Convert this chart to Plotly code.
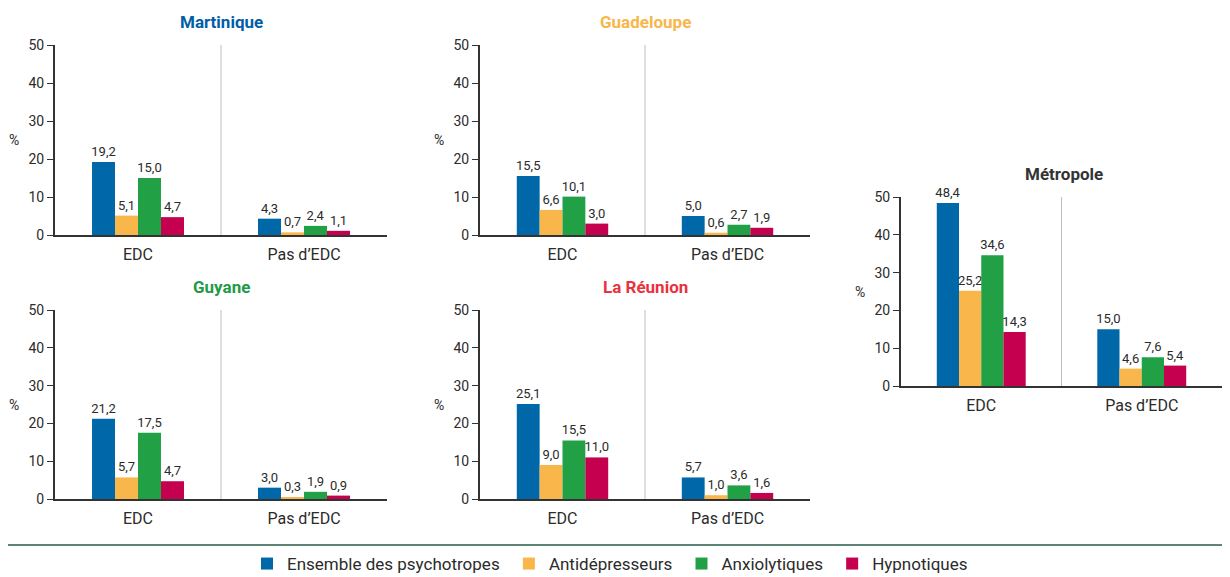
import plotly.graph_objects as go

# The page body adds an 8px margin, so the figure is sized to fit inside it
# and positions below are given in window pixels, then converted.
OFF = 8
W, H = 1230 - 2 * OFF, 577 - OFF

categories = ["EDC", "Pas d\u2019EDC"]
series_names = ["Ensemble des psychotropes", "Antid\u00e9presseurs", "Anxiolytiques", "Hypnotiques"]
series_colors = ["#0068a8", "#f9b64b", "#21a045", "#c4004f"]

regions = ["Martinique", "Guadeloupe", "Guyane", "La R\u00e9union", "M\u00e9tropole"]
title_colors = ["#005ea8", "#f9b64b", "#1f9a47", "#e8323e", "#333333"]

# values per region: [series][category]
martinique = [[19.2, 4.3], [5.1, 0.7], [15.0, 2.4], [4.7, 1.1]]
guadeloupe = [[15.5, 5.0], [6.6, 0.6], [10.1, 2.7], [3.0, 1.9]]
guyane = [[21.2, 3.0], [5.7, 0.3], [17.5, 1.9], [4.7, 0.9]]
la_reunion = [[25.1, 5.7], [9.0, 1.0], [15.5, 3.6], [11.0, 1.6]]
metropole = [[48.4, 15.0], [25.2, 4.6], [34.6, 7.6], [14.3, 5.4]]
region_values = [martinique, guadeloupe, guyane, la_reunion, metropole]

y_ticks = [0, 10, 20, 30, 40, 50]

# panel boxes in window pixels: (left, right, top, bottom)
boxes = [
    (55, 387, 45, 235),
    (480, 810, 45, 235),
    (55, 387, 310, 499),
    (480, 810, 310, 499),
    (901, 1222, 197, 386),
]


def px(x):
    return min(max((x - OFF) / W, 0), 1)


def py(y):
    return min(max(1 - (y - OFF) / H, 0), 1)


FONT = "Roboto, Liberation Sans Narrow, DejaVu Sans Condensed, sans-serif"
TXT = "#2b2b2b"

fig = go.Figure()
annotations = []
shapes = []


def fmt(v):
    return f"{v:.1f}".replace(".", ",")


PAD = "\u00a0"

for i, (reg, vals, box) in enumerate(zip(regions, region_values, boxes)):
    k = "" if i == 0 else str(i + 1)
    xa, ya = "x" + k, "y" + k
    for s, name in enumerate(series_names):
        fig.add_trace(go.Bar(
            x=categories, y=vals[s], name=name + PAD,
            marker=dict(color=series_colors[s], line=dict(width=0)),
            text=[fmt(v) for v in vals[s]], textposition="outside",
            textfont=dict(size=13, color=TXT, family=FONT),
            constraintext="none", cliponaxis=False,
            xaxis=xa, yaxis=ya,
            legendgroup=name, showlegend=(i == 0),
        ))
    l, r, t, b = box
    fig.layout["xaxis" + k] = dict(
        domain=[px(l), px(r)], anchor=ya, range=[-0.5, 1.5],
        showline=True, linecolor="#333333", linewidth=2,
        ticks="", showgrid=False, zeroline=False, automargin=False,
        tickfont=dict(size=16, color=TXT, family=FONT),
        ticklabelstandoff=4, fixedrange=True,
    )
    fig.layout["yaxis" + k] = dict(
        domain=[py(b), py(t)], anchor=xa, range=[0, 50],
        tickvals=y_ticks, showline=True, linecolor="#333333", linewidth=2,
        ticks="outside", ticklen=6, tickcolor="#333333", tickwidth=1,
        showgrid=False, zeroline=False, automargin=False,
        tickfont=dict(size=14, color=TXT, family=FONT), fixedrange=True,
    )
    # separator between categories
    shapes.append(dict(type="line", xref=xa, yref=ya + " domain",
                       x0=0.5, x1=0.5, y0=0, y1=1,
                       line=dict(color="#bdbdbd", width=1)))
    # region title
    cx = (l + r) / 2 if i < 4 else 1064
    annotations.append(dict(text="<b>" + reg + "</b>", xref="paper", yref="paper",
                            x=px(cx), y=py(t - 23),
                            showarrow=False, xanchor="center", yanchor="middle",
                            font=dict(size=17, color=title_colors[i], family=FONT)))
    # percent label
    annotations.append(dict(text="%", xref="paper", yref="paper",
                            x=px(l - 41), y=py((t + b) / 2),
                            showarrow=False, xanchor="center", yanchor="middle",
                            font=dict(size=14, color=TXT, family=FONT)))

# separator line above legend
shapes.append(dict(type="line", xref="paper", yref="paper", x0=0, x1=1,
                   y0=py(545), y1=py(545),
                   line=dict(color="#5e8377", width=2)))

fig.update_layout(
    width=W, height=H,
    margin=dict(l=0, r=0, t=0, b=0, autoexpand=False),
    paper_bgcolor="white", plot_bgcolor="white",
    barmode="group", bargap=0.446, bargroupgap=0,
    font=dict(family=FONT, color=TXT),
    annotations=annotations, shapes=shapes,
    legend=dict(orientation="h", x=px(612), xanchor="center",
                y=py(564), yanchor="middle",
                font=dict(size=17, color=TXT, family=FONT),
                itemwidth=30, tracegroupgap=0),
)

fig.write_html("out.html")
